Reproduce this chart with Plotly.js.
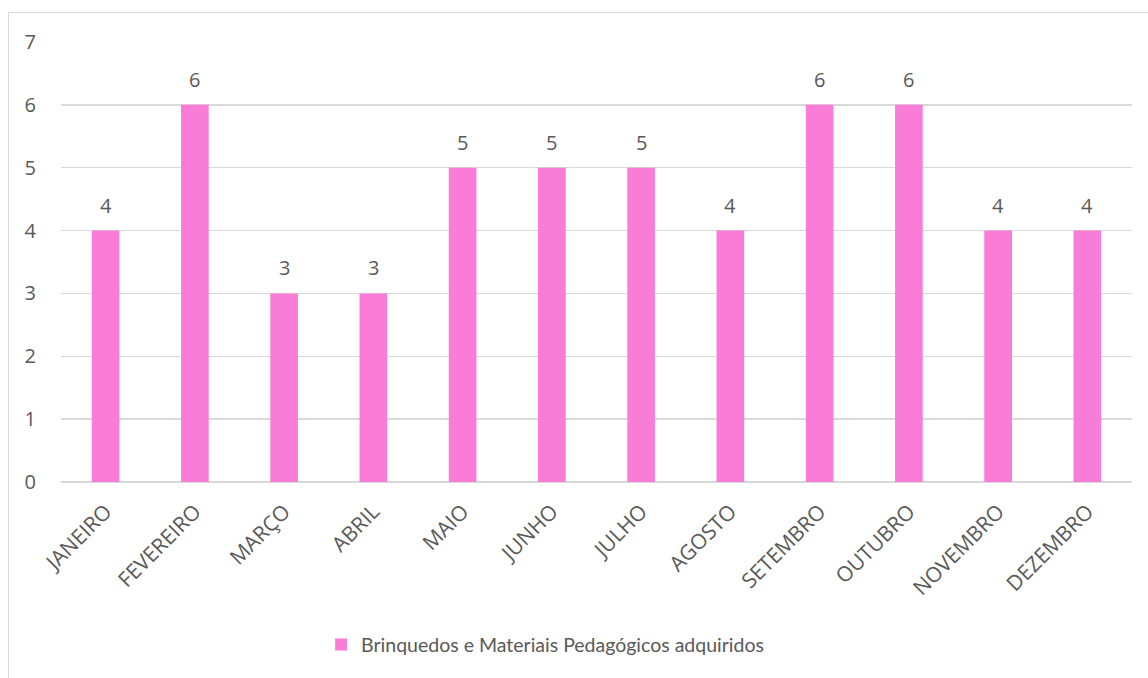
<!DOCTYPE html>
<html>
<head>
<meta charset="utf-8">
<script src="https://cdn.plot.ly/plotly-3.0.1.min.js"></script>
<style>
html,body{margin:0;padding:0;background:#fff;}
#chart{position:absolute;left:0;top:0;width:1148px;height:678px;}
#frame{position:absolute;left:8px;top:12px;width:1300px;height:900px;border-left:1px solid #d9d9d9;border-top:1px solid #d9d9d9;pointer-events:none;}
</style>
</head>
<body>
<div id="chart"></div>
<div id="frame"></div>
<script>
const months = ["JANEIRO","FEVEREIRO","MARÇO","ABRIL","MAIO","JUNHO","JULHO","AGOSTO","SETEMBRO","OUTUBRO","NOVEMBRO","DEZEMBRO"];
const values = [4,6,3,3,5,5,5,4,6,6,4,4];
const seriesName = "Brinquedos e Materiais Pedagógicos adquiridos";
const yTicks = [0,1,2,3,4,5,6,7];

const fontFam = "'Open Sans', 'Noto Sans', sans-serif";
const legendFam = "Lato, 'Open Sans', sans-serif";
const txtColor = "#595959";
const barColor = "#F97CD7";

const trace = {
  type: "bar",
  x: months,
  y: values,
  name: seriesName,
  marker: {color: barColor, line: {width: 0}},
  hoverinfo: "x+y"
};

const annotations = months.map((m, i) => ({
  x: m, y: values[i], xref: "x", yref: "y",
  text: String(values[i]), showarrow: false,
  yanchor: "bottom", yshift: 10,
  font: {family: fontFam, size: 20, color: txtColor}
}));

const layout = {
  width: 1148, height: 678,
  margin: {l: 61, r: 16, t: 42, b: 196},
  paper_bgcolor: "rgba(0,0,0,0)",
  plot_bgcolor: "#fff",
  bargap: 0.69,
  showlegend: true,
  legend: {orientation: "h", x: 0.452, xanchor: "center", y: -0.37, yanchor: "middle",
           font: {family: legendFam, size: 19.5, color: txtColor}, itemwidth: 30},
  xaxis: {
    type: "category",
    tickangle: -45,
    tickfont: {family: fontFam, size: 21, color: txtColor},
    ticks: "outside", ticklen: 8, tickcolor: "rgba(0,0,0,0)",
    showgrid: false, showline: false, zeroline: false
  },
  yaxis: {
    range: [0, 7],
    tickvals: yTicks,
    tickfont: {family: fontFam, size: 20, color: txtColor},
    ticks: "outside", ticklen: 20, tickcolor: "rgba(0,0,0,0)",
    gridcolor: "#d9d9d9", gridwidth: 1.3,
    zeroline: true, zerolinecolor: "#d9d9d9", zerolinewidth: 1.3,
    showline: false, fixedrange: true
  },
  annotations: annotations
};

Plotly.newPlot("chart", [trace], layout, {displayModeBar: false, staticPlot: true});
</script>
</body>
</html>
